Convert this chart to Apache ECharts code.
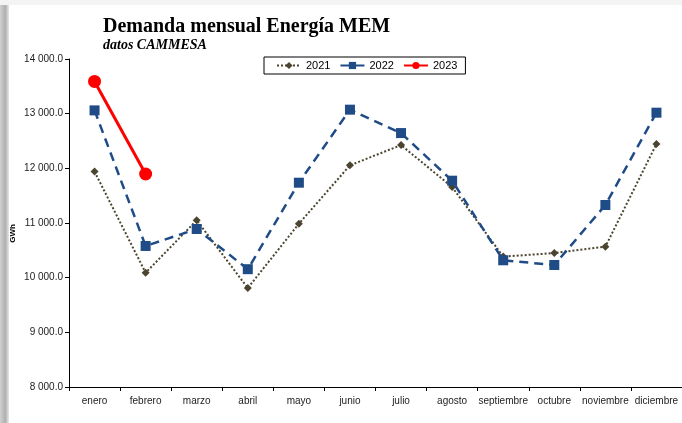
<!DOCTYPE html>
<html><head><meta charset="utf-8">
<script src="https://cdn.jsdelivr.net/npm/echarts@6/dist/echarts.min.js"></script>
<style>html,body{margin:0;padding:0;background:#fff}#c{width:682px;height:423px}</style>
</head><body><div id="c"></div>
<script>
const months = ["enero","febrero","marzo","abril","mayo","junio","julio","agosto","septiembre","octubre","noviembre","diciembre"];
const yTicks = [8000, 9000, 10000, 11000, 12000, 13000, 14000];
const s2021 = [11940, 10090, 11050, 9810, 10987, 12055, 12425, 11658, 10385, 10450, 10566, 12446];
const s2022 = [13060, 10580, 10890, 10155, 11737, 13073, 12645, 11774, 10318, 10232, 11329, 13018];
const s2023 = [13590, 11896];

function fmt(v){
  const s = Math.round(v).toString().replace(/\B(?=(\d{3})+(?!\d))/g, ' ');
  return s + '.0';
}
const chart = echarts.init(document.getElementById('c'), null, {renderer:'canvas'});
chart.setOption({
  animation:false,
  backgroundColor:'#fff',
  graphic:[
    {type:'rect', left:0, top:0, shape:{width:9, height:423},
     style:{fill:new echarts.graphic.LinearGradient(0,0,1,0,[{offset:0,color:'#d0d0d0'},{offset:0.6,color:'#b0b0b0'},{offset:1,color:'#e8e8e8'}])}},
    {type:'rect', left:0, top:0, shape:{width:682, height:5}, style:{fill:'#f4f4f4'}},
    {type:'text', left:103, top:17, style:{text:'Demanda mensual Energía MEM', font:'bold 20px "Liberation Serif"', fill:'#000'}},
    {type:'text', left:103, top:38, style:{text:'datos CAMMESA', font:'italic bold 14px "Liberation Serif"', fill:'#000'}},
    {type:'text', left:9, top:224, rotation:Math.PI/2, style:{text:'GWh', font:'bold 8px "Liberation Sans"', fill:'#000'}}
  ],
  legend:{
    left:264, top:57, itemGap:9, itemWidth:24, itemHeight:9,
    borderColor:'#000', borderWidth:1, padding:[3,8,3,12],
    textStyle:{fontFamily:'Liberation Sans', fontSize:11, color:'#000'},
    data:['2021','2022','2023']
  },
  grid:{left:69, top:59, width:617, height:328, containLabel:false},
  xAxis:{
    type:'category', data:months, boundaryGap:true,
    axisLine:{lineStyle:{color:'#000', width:1}},
    axisTick:{show:true, alignWithLabel:false, length:4, lineStyle:{color:'#000'}},
    axisLabel:{color:'#222', fontFamily:'Liberation Sans', fontSize:10, margin:9, interval:0},
    splitLine:{show:false}
  },
  yAxis:{
    type:'value', min:8000, max:14000, interval:1000,
    axisLine:{show:true, lineStyle:{color:'#000', width:1}},
    axisTick:{show:true, length:4, lineStyle:{color:'#000'}},
    axisLabel:{color:'#222', fontFamily:'Liberation Sans', fontSize:10, margin:6, formatter:fmt},
    splitLine:{show:false}
  },
  series:[
    {name:'2021', type:'line', data:s2021, symbol:'diamond', symbolSize:8,
     lineStyle:{color:'#4b4530', width:2, type:[2,2]}, itemStyle:{color:'#4b4530'}, z:2},
    {name:'2022', type:'line', data:s2022, symbol:'rect', symbolSize:10,
     lineStyle:{color:'#1f4b86', width:2.5, type:[9,6]}, itemStyle:{color:'#1f4b86'}, z:3},
    {name:'2023', type:'line', data:s2023, symbol:'circle', symbolSize:13,
     lineStyle:{color:'#ff0000', width:3}, itemStyle:{color:'#ff0000'}, z:4}
  ]
});
</script></body></html>
